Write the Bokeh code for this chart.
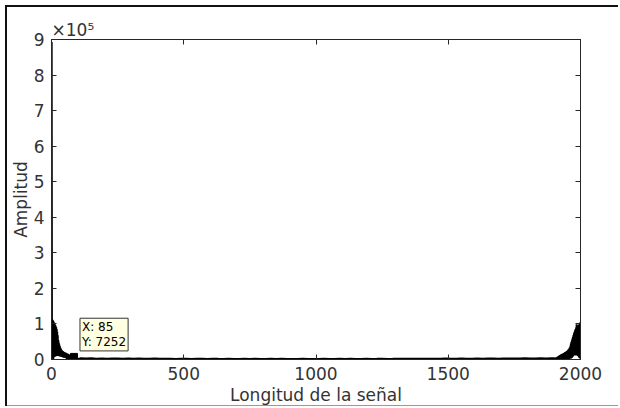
from bokeh.plotting import figure
from bokeh.models import Range1d, FixedTicker, LinearAxis, Label
from bokeh.embed import file_html
from bokeh.resources import INLINE

# ---------------- data ----------------
# |FFT| samples k = 1..100 (low-frequency end)
low_values = [
    893000, 116000, 2000, 112000, 4000, 110000, 1500, 107000, 6000, 104000,
    9000, 101000, 8000, 98000, 10000, 95000, 9000, 91000, 11000, 86000,
    10000, 78000, 12000, 68000, 10000, 55000, 11000, 48000, 9000, 42000,
    10000, 37000, 8000, 33000, 9000, 30000, 8000, 27000, 7000, 25000,
    8000, 24000, 6000, 23000, 7000, 22000, 5000, 21000, 6000, 20000,
    5000, 19500, 4000, 19000, 4500, 18000, 1500, 17000, 1000, 16500,
    800, 16000, 1200, 15000, 600, 14000, 900, 13000, 700, 12000,
    500, 11500, 800, 11000, 400, 10000, 600, 9500, 500, 9000,
    300, 8500, 600, 8000, 7252, 400, 7000, 500, 6500, 300,
    6000, 400, 5500, 300, 5200, 400, 4800, 300, 4500, 350,
]
low_start = 1

# |FFT| samples in the flat middle, every 20th sample from k = 110
mid_values = [
    3800, 2900, 3500, 2600, 3300, 2400, 3100, 2800, 2500, 3000,
    2200, 2900, 2600, 2300, 2800, 2100, 2700, 2400, 2000, 2600,
    2300, 1900, 2500, 2200, 1800, 2400, 2100, 1900, 2300, 2000,
    1800, 2200, 1900, 2100, 1700, 2000, 2200, 1800, 2100, 1900,
    1700, 2000, 2200, 1800, 2000, 1900, 2100, 1700, 2000, 2200,
    1900, 2100, 1800, 2000, 2300, 1900, 2100, 2400, 2000, 2200,
    2500, 2100, 2300, 2600, 2200, 2400, 2700, 2300, 2500, 2800,
    2400, 2600, 2900, 2500, 2700, 3000, 2600, 2900, 3200, 2700,
    3000, 3300, 2900, 3200, 3500, 3000, 3400, 3700, 3200, 3900,
]
mid_start = 110
mid_step = 20

# |FFT| samples k = 1901..2000 (mirrored high-frequency end)
high_values = [
    4000, 500, 4500, 400, 5000, 600, 5500, 300, 6000, 500,
    6800, 400, 7500, 600, 8500, 300, 9500, 500, 10500, 400,
    11500, 600, 12500, 300, 13500, 500, 14500, 400, 15500, 700,
    16000, 500, 16500, 800, 17000, 600, 18000, 900, 19000, 700,
    20000, 1000, 21000, 800, 22000, 1200, 23000, 1000, 24000, 1500,
    25000, 1200, 27000, 2000, 29000, 1500, 31000, 2500, 34000, 2000,
    37000, 2500, 44000, 3000, 49000, 4000, 54000, 5000, 59000, 7000,
    64000, 9000, 69000, 11000, 74000, 12000, 78000, 11000, 82000, 13000,
    86000, 12000, 90000, 11000, 99000, 13000, 92000, 12000, 94000, 10000,
    96000, 9000, 98000, 6000, 99000, 4000, 101000, 3000, 102000, 105000,
]
high_start = 1901

tip_x = 85
tip_y = 7252

x_ticks = [0, 500, 1000, 1500, 2000]
y_ticks = [0, 100000, 200000, 300000, 400000, 500000, 600000, 700000, 800000, 900000]
y_tick_labels = ["0", "1", "2", "3", "4", "5", "6", "7", "8", "9"]
exponent_text = "×10⁵"

x_label = "Longitud de la señal"
y_label = "Amplitud"

# ---------------- build series ----------------
xs = [low_start + i for i in range(len(low_values))]
ys = list(low_values)
xs += [mid_start + mid_step * i for i in range(len(mid_values))]
ys += list(mid_values)
xs += [high_start + i for i in range(len(high_values))]
ys += list(high_values)

FONT = "DejaVu Sans"
AX = "#262626"
TXT = "#333333"

p = figure(width=618, height=407, output_backend="svg", toolbar_location=None,
           x_range=Range1d(0, 2000), y_range=Range1d(0, 900000),
           min_border_left=51, min_border_right=38, min_border_top=39, min_border_bottom=46)
p.xgrid.visible = False
p.ygrid.visible = False
p.outline_line_color = AX
p.background_fill_color = "white"
p.border_fill_alpha = 0
# thin frame around the whole picture (as in the screenshot)
p.styles = {
    "background-color": "white",
    "background-image": "linear-gradient(#111,#111), linear-gradient(#111,#111), linear-gradient(#999,#999)",
    "background-size": "calc(100% - 5px) 2px, 2px 401px, calc(100% - 5px) 1px",
    "background-position": "5px 5px, 5px 5px, 5px 405px",
    "background-repeat": "no-repeat",
}

p.title.text = exponent_text
p.title.align = "left"
p.title.text_font = FONT
p.title.text_font_size = "17px"
p.title.text_font_style = "normal"
p.title.text_color = TXT
p.title.standoff = 0
p.title.offset = 0

p.line(xs, ys, color="black", line_width=1.8)
p.scatter([tip_x], [tip_y], marker="square", size=7, color="black")

def style(ax, show_labels):
    ax.axis_line_color = AX
    ax.major_tick_line_color = AX
    ax.major_tick_in = 5
    ax.major_tick_out = 0
    ax.minor_tick_line_color = None
    ax.major_label_text_font = FONT
    ax.major_label_text_color = TXT if show_labels else None
    ax.major_label_text_font_size = "17px" if show_labels else "1px"
    ax.major_label_standoff = 7 if show_labels else 0
    ax.axis_label_text_font = FONT
    ax.axis_label_text_font_size = "17px"
    ax.axis_label_text_font_style = "normal"
    ax.axis_label_text_color = TXT

xa = p.xaxis[0]
xa.ticker = FixedTicker(ticks=x_ticks)
xa.axis_label = x_label
xa.axis_label_standoff = 2
style(xa, True)

ya = p.yaxis[0]
ya.ticker = FixedTicker(ticks=y_ticks)
ya.major_label_overrides = {t: l for t, l in zip(y_ticks, y_tick_labels)}
ya.axis_label = y_label
ya.axis_label_standoff = 0
style(ya, True)

top = LinearAxis(ticker=FixedTicker(ticks=x_ticks))
style(top, False)
p.add_layout(top, "above")
right = LinearAxis(ticker=FixedTicker(ticks=y_ticks))
style(right, False)
p.add_layout(right, "right")

# data tip
p.add_layout(Label(x=tip_x, y=tip_y, x_offset=6, y_offset=6,
                   text="X: %d\nY: %d" % (tip_x, tip_y),
                   text_font=FONT, text_font_size="12px", text_color="black",
                   text_line_height=1.05,
                   text_baseline="bottom", text_align="left",
                   background_fill_color="#FFFFE1", border_line_color="#333333",
                   padding=2))

open("out.html", "w").write(file_html(p, INLINE))
